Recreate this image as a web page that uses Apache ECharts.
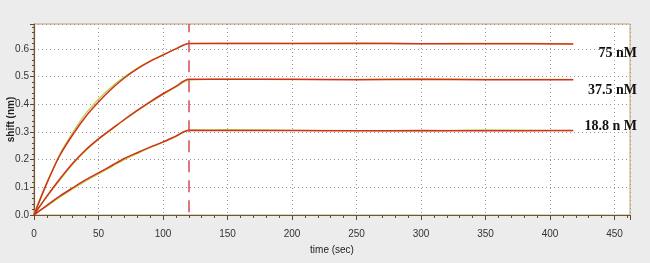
<!DOCTYPE html>
<html><head><meta charset="utf-8">
<script src="https://cdn.jsdelivr.net/npm/echarts@6/dist/echarts.min.js"></script>
<style>html,body{margin:0;padding:0;background:#ececec}#c{width:650px;height:263px}</style>
</head><body><div id="c"></div>
<script>
var times = [0,10,20,30,40,50,60,70,80,90,100,110,120,150,200,250,300,350,418];
var fit75  = [0,0.115,0.215,0.29,0.355,0.408,0.455,0.495,0.528,0.555,0.578,0.60,0.62,0.62,0.62,0.62,0.619,0.619,0.618];
var raw75  = [0.005,0.118,0.22,0.298,0.366,0.418,0.462,0.499,0.53,0.557,0.579,0.60,0.619,0.621,0.62,0.622,0.619,0.62,0.619];
var fit375 = [0,0.068,0.13,0.187,0.235,0.275,0.31,0.345,0.378,0.409,0.438,0.465,0.49,0.49,0.49,0.489,0.49,0.489,0.489];
var raw375 = [0.005,0.066,0.126,0.183,0.232,0.273,0.308,0.343,0.376,0.407,0.435,0.462,0.487,0.491,0.489,0.49,0.491,0.49,0.49];
var fit188 = [0,0.035,0.068,0.098,0.127,0.152,0.178,0.204,0.225,0.245,0.264,0.285,0.306,0.305,0.305,0.304,0.305,0.304,0.305];
var raw188 = [0.004,0.032,0.064,0.094,0.122,0.148,0.174,0.2,0.222,0.243,0.262,0.283,0.306,0.308,0.306,0.305,0.304,0.307,0.305];
var concLabels = ['75 nM','37.5 nM','18.8 n M'];
var concLevels = [0.62,0.49,0.305];
var dissocStart = 120;

function pairs(v){return times.map(function(t,i){return [t,v[i]];});}
var chart = echarts.init(document.getElementById('c'));
var lab = {color:'#333',fontSize:10,fontFamily:'Liberation Sans Narrow, Arial Narrow, sans-serif'};
var rawStyle = {color:'#b8d44a',width:1.3};
var fitStyle = {color:'#d0301c',width:1.5};
function rawS(v){return {type:'line',data:pairs(v),showSymbol:false,smooth:0.3,lineStyle:rawStyle,itemStyle:{color:'#b8d44a'},z:2,silent:true};}
function fitS(v){return {type:'line',data:pairs(v),showSymbol:false,smooth:0.3,lineStyle:fitStyle,itemStyle:{color:'#d0301c'},z:3,silent:true};}
var series = [rawS(raw75),rawS(raw375),rawS(raw188),fitS(fit75),fitS(fit375),fitS(fit188)];
series[3].markLine = {symbol:'none',silent:true,label:{show:false},
  lineStyle:{color:'#d84a5a',type:[12,8],width:1.5},
  data:[[{coord:[dissocStart,0.01]},{coord:[dissocStart,0.69]}]]};
chart.setOption({
  animation:false,
  backgroundColor:'#ececec',
  grid:{left:34,right:20,top:24,bottom:48,containLabel:false,outerBoundsMode:'none',show:true,backgroundColor:'#ffffff',borderColor:'#c9a070',borderWidth:1},
  xAxis:{type:'value',min:0,max:462,interval:50,
    name:'time (sec)',nameLocation:'middle',nameGap:30,nameMoveOverlap:false,
    nameTextStyle:{color:'#222',fontSize:10,fontFamily:'Liberation Sans Narrow, Arial Narrow, sans-serif'},
    axisLine:{show:true,onZero:false,lineStyle:{color:'#6a5a3a',width:1.2}},
    axisTick:{show:true,length:5,lineStyle:{color:'#5a4a30'}},
    minorTick:{show:true,splitNumber:5,length:3,lineStyle:{color:'#5a4a30'}},
    axisLabel:Object.assign({margin:14,showMaxLabel:false},lab),
    splitLine:{show:true,lineStyle:{color:'#999',type:[1,3],width:1}}},
  yAxis:{type:'value',min:0,max:0.69,interval:0.1,
    name:'shift (nm)',nameLocation:'middle',nameGap:18,nameMoveOverlap:false,
    nameTextStyle:{color:'#222',fontSize:10,fontWeight:'bold',fontFamily:'Liberation Sans Narrow, Arial Narrow, sans-serif'},
    axisLine:{show:true,lineStyle:{color:'#6a5a3a',width:1.2}},
    axisTick:{show:true,length:4,lineStyle:{color:'#5a4a30'}},
    minorTick:{show:true,splitNumber:5,length:2,lineStyle:{color:'#5a4a30'}},
    axisLabel:Object.assign({margin:5,showMaxLabel:false,formatter:function(v){return v.toFixed(1);}},lab),
    splitLine:{show:true,lineStyle:{color:'#999',type:[1,3],width:1}}},
  series:series
});
// concentration labels placed through the chart's own y scale
var yOff = [10,11,-4];
var graphics = concLabels.map(function(t,i){
  var p = chart.convertToPixel({gridIndex:0},[0,concLevels[i]]);
  return {type:'text',right:13,y:p[1]+yOff[i],z:10,style:{text:t,font:'bold 14px "Liberation Serif", serif',fill:'#111',textVerticalAlign:'middle'}};
});
chart.setOption({graphic:graphics});
</script></body></html>
